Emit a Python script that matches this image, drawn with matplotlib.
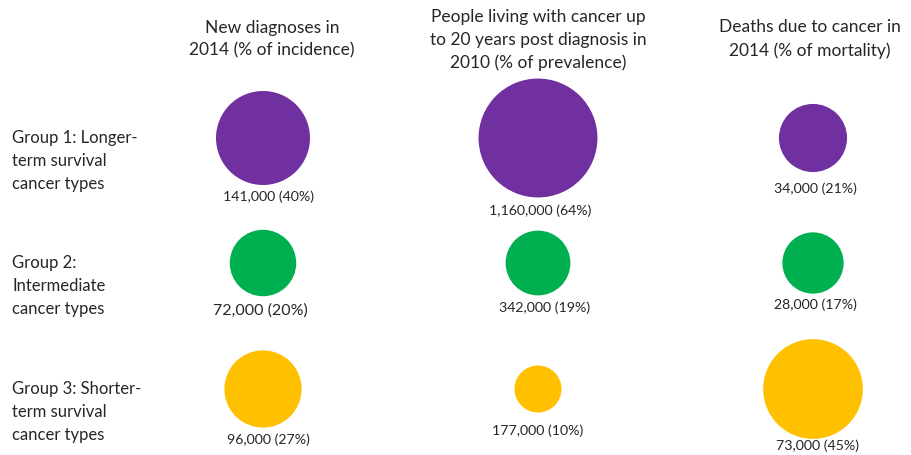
import numpy as np
import matplotlib
matplotlib.use("Agg")
import matplotlib.pyplot as plt
from matplotlib.patches import Circle

# ---- data ----
columns = ["New diagnoses in\n2014 (% of incidence)",
           "People living with cancer up\nto 20 years post diagnosis in\n2010 (% of prevalence)",
           "Deaths due to cancer in\n2014 (% of mortality)"]
groups = ["Group 1: Longer-\nterm survival\ncancer types",
          "Group 2:\nIntermediate\ncancer types",
          "Group 3: Shorter-\nterm survival\ncancer types"]
group1_pct = [40, 64, 21]
group2_pct = [20, 19, 17]
group3_pct = [27, 10, 45]
group1_counts = ["141,000", "1,160,000", "34,000"]
group2_counts = ["72,000", "342,000", "28,000"]
group3_counts = ["96,000", "177,000", "73,000"]

pcts = [group1_pct, group2_pct, group3_pct]
counts = [group1_counts, group2_counts, group3_counts]
colors = ["#7030A0", "#00B050", "#FFC000"]

# ---- layout ----
W, H = 911, 456
fig = plt.figure(figsize=(W / 100, H / 100), dpi=100)
ax = fig.add_axes([0, 0, 1, 1])
ax.set_xlim(0, W)
ax.set_ylim(H, 0)
ax.set_aspect("equal")
ax.axis("off")

col_x = [263, 538, 813]
row_y = [139, 264, 390]
label_dx = [[5, 2, 2], [-3, 7, 2], [5, 0, 5]]
label_gap = [[11, 12, 16], [13, 11, 10], [11, 17, 6]]
txt = "#262626"
font = "Lato"

head_x = [272, 538, 810]
head_y = [39, 40, 39]
for hx, hy, t in zip(head_x, head_y, columns):
    ax.text(hx, hy, t, ha="center", va="center", fontsize=12.5,
            family=font, color=txt, linespacing=1.5)

for ry, g in zip(row_y, groups):
    ax.text(12, ry + 22, g, ha="left", va="center",
            fontsize=12, family=font, color=txt, linespacing=1.52)

for i in range(3):
    for j in range(3):
        p = pcts[i][j]
        r = 47 * np.sqrt(p / 40)
        cx, cy = col_x[j], row_y[i]
        ax.add_patch(Circle((cx, cy), r, facecolor=colors[i], edgecolor="none"))
        fs = 11.5 if (i == 1 and j == 0) else 10.2
        ax.text(cx + label_dx[i][j], cy + r + label_gap[i][j],
                f"{counts[i][j]} ({p}%)", ha="center", va="center",
                fontsize=fs, family=font, color=txt)

fig.savefig("out.png", dpi=100, facecolor="white")
